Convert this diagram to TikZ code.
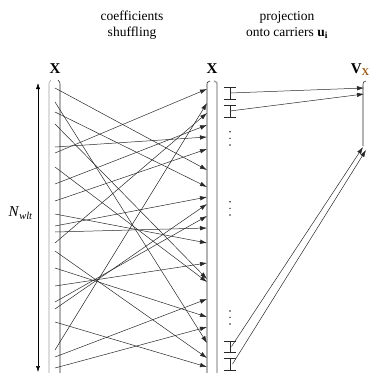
\documentclass[tikz,border=0pt]{standalone}
\usepackage{fontspec}
\setmainfont{Liberation Serif}
\usepackage{tikz}
\usetikzlibrary{positioning, arrows.meta}
\definecolor{linegray}{RGB}{40,40,40}
\definecolor{rulegray}{RGB}{160,160,160}
\definecolor{subbrown}{RGB}{160,90,20}

\begin{document}
\begin{tikzpicture}[
        x=1pt, y=-1pt,
        font=\fontsize{13.5}{16.5}\selectfont,
        lbl/.style={inner sep=0pt, align=center},
        biglbl/.style={lbl, font=\fontsize{15}{18}\selectfont},
        shuf/.style={-{Latex[length=7pt,width=4.5pt]}, draw=linegray, line width=0.5pt},
        col/.style={draw=linegray, line width=0.6pt},
        colgray/.style={draw=rulegray, line width=1.4pt},
        ibeam/.style={draw=linegray, line width=0.5pt},
        dim/.style={{Latex[length=6pt,width=4pt]}-{Latex[length=6pt,width=4pt]}, draw=black, line width=0.5pt}
    ]
        \useasboundingbox (0,0) rectangle (372,373);

        % Titles
        \node[lbl] (TSHUF) at (132,25) {coefficients\\shuffling};
        \node[lbl] (TPROJ) at (287,25) {projection\\onto carriers \textbf{u}\textsubscript{\textbf{i}}};

        % Column labels
        \node[biglbl, anchor=base] (XIN) at (55,73) {\textbf{X}};
        \node[biglbl, anchor=base] (XOUT) at (212,73) {\textbf{X}};
        \node[biglbl, anchor=base east] (VX) at (370,73) {\textbf{V}\textsubscript{\textcolor{subbrown}{\textbf{X}}}};

        % Input column
        \draw[col, draw=rulegray] (51,80) .. controls (49,82) .. (49,87) -- (49,373);
        \draw[col] (58,80) .. controls (60,82) .. (60,87) -- (60,373);

        % Shuffled column
        \draw[col] (207,373) -- (207,86) .. controls (207,82) .. (210,81);
        \draw[colgray] (214,81) .. controls (217,82) .. (217,86) -- (217,373);

        % Projection column
        \draw[col] (363,146) -- (363,85) .. controls (363,82) .. (366,81);

        % Size of the vector
        \coordinate (NTOP) at (38,83);
        \coordinate (NBOT) at (38,372);
        \coordinate (NMID) at (38,213);
        \draw[dim] (NBOT) -- (NTOP);
        \node[biglbl, left=5pt of NMID] (NLBL) {\textit{N}\textsubscript{\textit{wlt}}};

        % Coefficients before and after shuffling
        \foreach \y [count=\i] in {88,102,112,124,147,153,167,184,201,214,226,232,243,251,268,286,302,309,322,350,357,368}
            \coordinate (L\i) at (55,\y);
        \foreach \y [count=\i] in {89,103,113,125,137,149,170,187,197,204,216,228,243,263,279,282,299,317,327,343,358,367}
            \coordinate (R\i) at (207,\y);

        % Shuffling
        \foreach \a/\b in {1/7, 2/20, 3/8, 4/15, 5/5, 6/1, 7/16, 8/4, 9/6, 10/13, 11/9,
                           12/12, 13/3, 14/21, 15/18, 16/14, 17/11, 18/10, 19/22, 20/2, 21/17, 22/19}
            \draw[shuf] (L\a) -- (R\b);

        % Groups of coefficients
        \foreach \a/\b in {87/99, 105/117, 341/352, 358/370} {
            \draw[ibeam] (230,\a) -- (230,\b);
            \draw[ibeam] (224,\a) -- (236,\a);
            \draw[ibeam] (224,\b) -- (236,\b);
        }
        \foreach \y in {131.7,138.3,145,201.7,208.3,215,311,317.3,324}
            \fill[linegray] (230,\y) circle[radius=0.8pt];

        % Projections
        \coordinate (P1) at (230,93);
        \coordinate (P2) at (230,111);
        \coordinate (P3) at (231.5,346.5);
        \coordinate (P4) at (232.5,364);
        \coordinate (V1) at (364,88);
        \coordinate (V2) at (364,94);
        \coordinate (V3) at (363,147);
        \coordinate (V4) at (366,150);
        \draw[shuf] (P1) -- (V1);
        \draw[shuf] (P2) -- (V2);
        \draw[shuf] (P3) -- (V3);
        \draw[shuf] (P4) -- (V4);
    \end{tikzpicture}
\end{document}
